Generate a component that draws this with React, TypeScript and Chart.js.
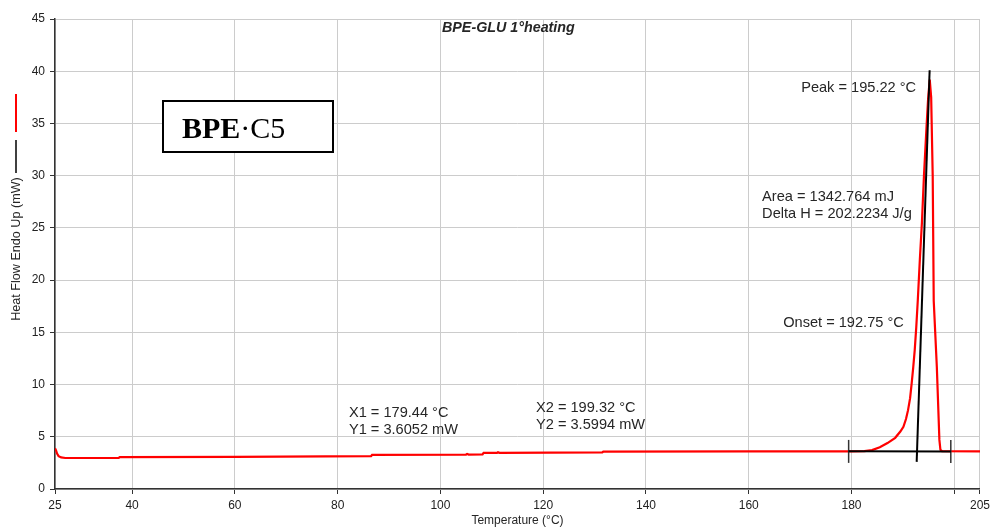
import { useEffect, useRef } from "react";
import { Chart, registerables } from "chart.js";

Chart.register(...registerables);

// DSC trace: temperature (°C) vs heat flow (mW), endo up
const temperature = [
  25.0, 25.2, 25.4, 25.7, 26.2, 27.0, 37.4, 37.6, 60.0, 86.5, 86.7, 105.0, 105.2, 105.5,
  108.2, 108.4, 111.0, 111.2, 111.5, 131.5, 131.7, 160.0, 180.0, 182.5, 184.0, 185.5,
  187.0, 188.5, 189.5, 190.1, 190.6, 191.0, 191.4, 191.7, 192.0, 192.3, 192.6, 192.9,
  193.3, 193.7, 194.1, 194.6, 194.9, 195.22, 195.5, 195.8, 196.0, 196.6, 197.1, 197.3,
  197.6, 205.0,
];
const heatFlow = [
  3.9, 3.7, 3.4, 3.15, 3.02, 2.97, 2.98, 3.06, 3.08, 3.14, 3.26, 3.3, 3.36, 3.3,
  3.31, 3.45, 3.45, 3.52, 3.46, 3.5, 3.58, 3.6, 3.6, 3.63, 3.72, 4.0,
  4.4, 4.9, 5.5, 5.95, 6.7, 7.55, 8.7, 10.1, 11.6, 13.3, 15.5, 18.1,
  22.0, 25.5, 30.0, 34.7, 37.3, 39.2, 37.5, 30.0, 18.0, 11.7, 4.7, 3.75,
  3.62, 3.6,
];

// Peak analysis results
const peakT = 195.22;
const onsetT = 192.75;
const areaMJ = 1342.764;
const deltaH = 202.2234;
const baselineT = [179.44, 199.32];
const baselineHF = [3.6052, 3.5994];
const limitHF = [2.5, 4.7];
const tangentT = [192.68, 195.2];
const tangentHF = [2.6, 40.1];

const xTicks = [25, 40, 60, 80, 100, 120, 140, 160, 180, 200, 205];
const xHiddenLabels = [200];
const yMin = 0;
const yMax = 45;
const yStep = 5;

const SANS = "'Liberation Sans', Arial, sans-serif";
const SERIF = "'Liberation Serif', 'Times New Roman', serif";

const pts = (xs: number[], ys: number[]) => xs.map((x, i) => ({ x, y: ys[i] }));

const decorations = {
  id: "decorations",
  afterDraw(chart: any) {
    const { ctx } = chart;
    const xs = chart.scales.x;
    const ys = chart.scales.y;
    const px = (v: number) => xs.getPixelForValue(v);
    const py = (v: number) => ys.getPixelForValue(v);

    ctx.save();
    ctx.fillStyle = "#262626";
    ctx.textBaseline = "middle";

    // chart title
    ctx.font = `italic bold 14.3px ${SANS}`;
    ctx.textAlign = "left";
    ctx.fillText("BPE-GLU 1°heating", 442, 28);

    // analysis labels
    ctx.font = `14.6px ${SANS}`;
    ctx.fillText(`Peak = ${peakT.toFixed(2)} °C`, px(170.2), py(38.4));
    ctx.fillText(`Area = ${areaMJ.toFixed(3)} mJ`, px(162.6), py(28.0));
    ctx.fillText(`Delta H = ${deltaH.toFixed(4)} J/g`, px(162.6), py(28.0) + 17.5);
    ctx.fillText(`Onset = ${onsetT.toFixed(2)} °C`, px(166.7), py(15.9));
    ctx.fillText(`X1 = ${baselineT[0].toFixed(2)} °C`, px(82.2), py(7.3));
    ctx.fillText(`Y1 = ${baselineHF[0].toFixed(4)} mW`, px(82.2), py(7.3) + 17.5);
    ctx.fillText(`X2 = ${baselineT[1].toFixed(2)} °C`, px(118.6), py(7.8));
    ctx.fillText(`Y2 = ${baselineHF[1].toFixed(4)} mW`, px(118.6), py(7.8) + 17.5);

    // axis titles
    ctx.font = `12px ${SANS}`;
    ctx.textAlign = "center";
    ctx.fillText("Temperature (°C)", (chart.chartArea.left + chart.chartArea.right) / 2, 521);
    ctx.save();
    ctx.translate(17, 249);
    ctx.rotate(-Math.PI / 2);
    ctx.font = `12.6px ${SANS}`;
    ctx.fillText("Heat Flow Endo Up (mW)", 0, 0);
    ctx.restore();

    // legend keys beside the y title
    ctx.lineWidth = 2;
    ctx.strokeStyle = "#ff0000";
    ctx.beginPath();
    ctx.moveTo(16, 94);
    ctx.lineTo(16, 132);
    ctx.stroke();
    ctx.lineWidth = 1.5;
    ctx.strokeStyle = "#000000";
    ctx.beginPath();
    ctx.moveTo(16, 140);
    ctx.lineTo(16, 173);
    ctx.stroke();

    // sample name box
    ctx.fillStyle = "#ffffff";
    ctx.fillRect(163, 101, 170, 51);
    ctx.lineWidth = 2;
    ctx.strokeStyle = "#000000";
    ctx.strokeRect(163, 101, 170, 51);
    ctx.fillStyle = "#000000";
    ctx.textAlign = "left";
    ctx.textBaseline = "alphabetic";
    ctx.font = `bold 30px ${SERIF}`;
    ctx.fillText("BPE", 182, 138);
    const w = ctx.measureText("BPE").width;
    ctx.font = `30px ${SERIF}`;
    ctx.fillText("·C5", 182 + w, 138);

    ctx.restore();
  },
};

export default function App() {
  const canvasRef = useRef<HTMLCanvasElement | null>(null);

  useEffect(() => {
    const canvas = canvasRef.current;
    if (!canvas) return;
    const black = "#000000";
    const chart = new Chart(canvas, {
      type: "scatter",
      data: {
        datasets: [
          {
            data: pts(baselineT, baselineHF),
            borderColor: black,
            borderWidth: 2,
            showLine: true,
            pointRadius: 0,
            order: 0,
          },
          {
            data: pts([baselineT[0], baselineT[0]], limitHF),
            borderColor: "#333333",
            borderWidth: 1.5,
            showLine: true,
            pointRadius: 0,
            order: 0,
          },
          {
            data: pts([baselineT[1], baselineT[1]], limitHF),
            borderColor: "#333333",
            borderWidth: 1.5,
            showLine: true,
            pointRadius: 0,
            order: 0,
          },
          {
            data: pts(tangentT, tangentHF),
            borderColor: black,
            borderWidth: 2,
            showLine: true,
            pointRadius: 0,
            order: 0,
          },
          {
            data: pts(temperature, heatFlow),
            borderColor: "#ff0000",
            borderWidth: 2.2,
            showLine: true,
            pointRadius: 0,
            tension: 0,
            order: 1,
          },
        ],
      },
      options: {
        animation: false,
        responsive: false,
        devicePixelRatio: 1,
        layout: { padding: { left: 0, right: 14, top: 19, bottom: 0 } },
        plugins: { legend: { display: false }, tooltip: { enabled: false } },
        scales: {
          x: {
            type: "linear",
            min: xTicks[0],
            max: xTicks[xTicks.length - 1],
            afterBuildTicks: (s: any) => {
              s.ticks = xTicks.map((v) => ({ value: v }));
            },
            afterFit: (s: any) => {
              s.height = 41;
            },
            ticks: {
              autoSkip: false,
              maxRotation: 0,
              padding: 4,
              color: "#222222",
              font: { family: SANS, size: 12 },
              callback: (v: any) => (xHiddenLabels.includes(Number(v)) ? "" : String(v)),
            },
            grid: { color: "#cccccc", tickColor: "#333333", tickLength: 5, lineWidth: 1 },
            border: { color: "#333333", width: 1.5 },
          },
          y: {
            type: "linear",
            min: yMin,
            max: yMax,
            afterFit: (s: any) => {
              s.width = 55;
            },
            ticks: {
              stepSize: yStep,
              padding: 5,
              color: "#222222",
              font: { family: SANS, size: 12 },
            },
            grid: { color: "#cccccc", tickColor: "#333333", tickLength: 5, lineWidth: 1 },
            border: { color: "#333333", width: 1.5 },
          },
        },
      },
      plugins: [decorations],
    } as any);
    return () => chart.destroy();
  }, []);

  return (
    <div style={{ position: "absolute", left: 0, top: 0, width: 994, height: 530, background: "#ffffff" }}>
      <canvas ref={canvasRef} width={994} height={530} />
    </div>
  );
}
